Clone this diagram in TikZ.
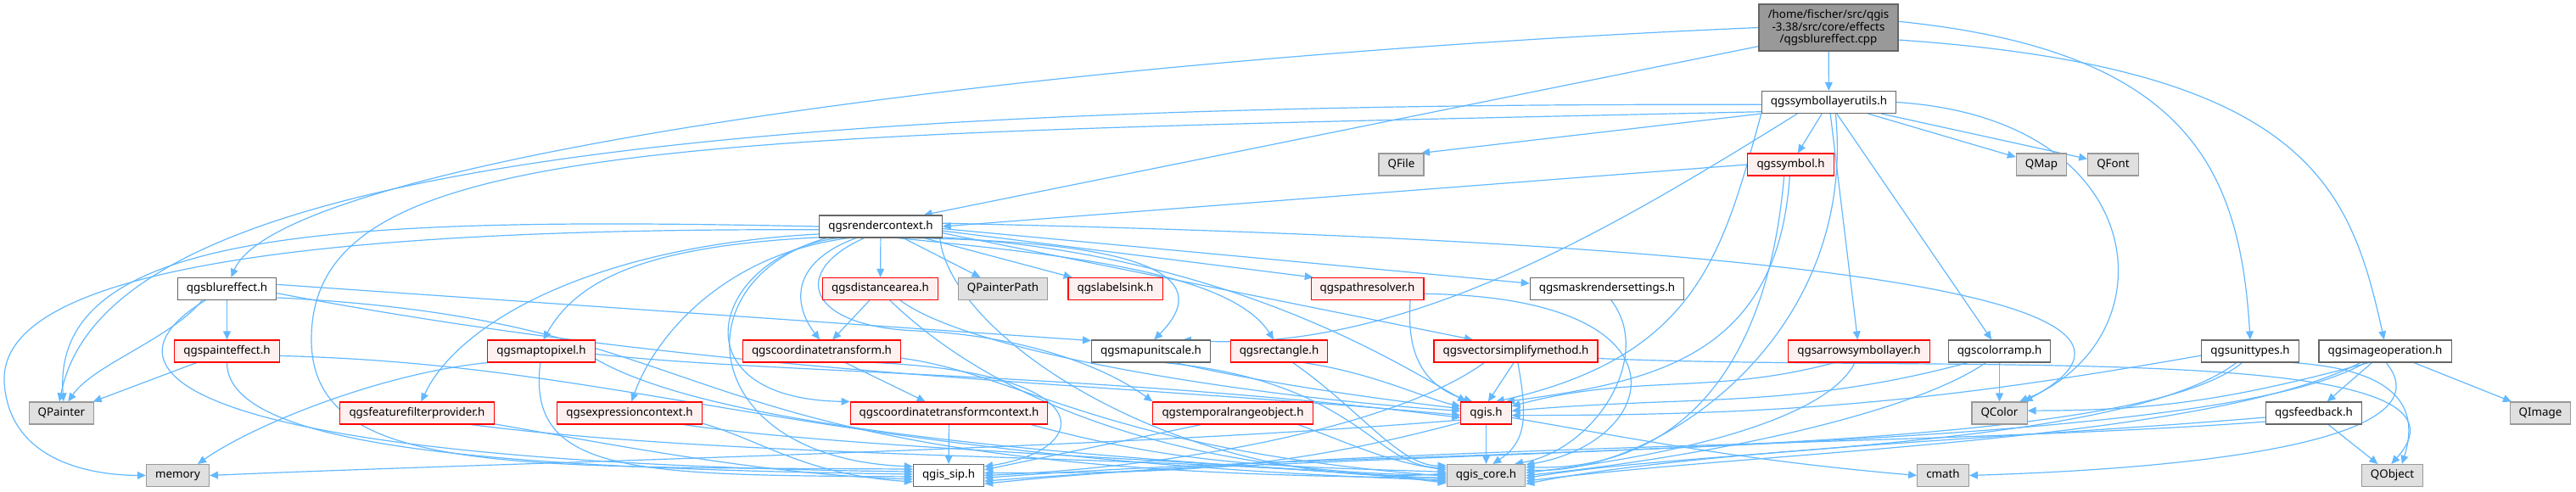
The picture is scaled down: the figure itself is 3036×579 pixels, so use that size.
\documentclass[tikz,border=0pt]{standalone}
\usepackage{fontspec}
\setmainfont{Noto Sans}
\usepackage{xcolor}
\usepackage{tikz}
\usetikzlibrary{arrows.meta}
\usetikzlibrary{backgrounds}
\definecolor{edgeblue}{HTML}{63B8FF}
\definecolor{boxgray}{HTML}{666666}
\definecolor{extgray}{HTML}{999999}
\definecolor{extfill}{HTML}{E0E0E0}
\definecolor{truncfill}{HTML}{FFF0F0}
\definecolor{truncred}{HTML}{FF0000}
\tikzset{
    filenode/.style = {rectangle, draw=boxgray, fill=white, line width=0.55pt, minimum height=13pt, inner xsep=5.3pt, inner ysep=0pt, text height=4.9pt, text depth=1.6pt},
    truncnode/.style = {filenode, draw=truncred, fill=truncfill},
    extnode/.style = {filenode, draw=extgray, fill=extfill},
    rootnode/.style = {rectangle, draw=boxgray, fill=extgray, line width=0.55pt, align=center, minimum width=82pt, minimum height=27.5pt, inner sep=1pt},
}

\begin{document}
\begin{tikzpicture}[
	x=0.5pt, y=-0.5pt,
	font=\fontsize{6.67pt}{7.25pt}\selectfont
]
\tikzset{
    dep/.style = {draw=edgeblue, line width=0.6pt, -{Triangle[length=5pt,width=4.4pt]}}
}
\useasboundingbox (0,0) rectangle (3036,579);
\node[rootnode] at (2155,32.5) (blurcpp) {/home/fischer/src/qgis\\-3.38/src/core/effects\\/qgsblureffect.cpp};
\node[filenode] at (2155.5,120.5) (symlayerutils) {qgssymbollayerutils.h};
%
\node[extnode] at (1651.5,194) (qfile) {QFile};
\node[truncnode] at (2110.5,194) (symbol) {qgssymbol.h};
\node[extnode] at (2406,194) (qmap) {QMap};
\node[extnode] at (2490.5,194) (qfont) {QFont};
\node[filenode] at (1038,267) (rendercontext) {qgsrendercontext.h};
%
\node[filenode] at (267.5,340.5) (blureffect) {qgsblureffect.h};
\node[truncnode] at (1037.5,340.5) (distancearea) {qgsdistancearea.h};
\node[extnode] at (1182,340.5) (qpainterpath) {QPainterPath};
\node[truncnode] at (1314.5,340.5) (labelsink) {qgslabelsink.h};
\node[truncnode] at (1611.5,340.5) (pathresolver) {qgspathresolver.h};
\node[filenode] at (1894,340.5) (maskrender) {qgsmaskrendersettings.h};
%
\node[truncnode] at (267.5,414) (painteffect) {qgspainteffect.h};
\node[truncnode] at (638,414) (maptopixel) {qgsmaptopixel.h};
\node[truncnode] at (968.5,414) (coordtrans) {qgscoordinatetransform.h};
\node[filenode] at (1356.5,414) (mapunitscale) {qgsmapunitscale.h};
\node[truncnode] at (1507.5,414) (rectangle) {qgsrectangle.h};
\node[truncnode] at (1786.5,414) (vectorsimplify) {qgsvectorsimplifymethod.h};
\node[truncnode] at (2191,414) (arrowsymbol) {qgsarrowsymbollayer.h};
\node[filenode] at (2356.5,414) (colorramp) {qgscolorramp.h};
\node[filenode] at (2652,414) (unittypes) {qgsunittypes.h};
\node[filenode] at (2811,414) (imageop) {qgsimageoperation.h};
%
\node[extnode] at (72.5,487) (qpainter) {QPainter};
\node[truncnode] at (491.5,487) (featurefilter) {qgsfeaturefilterprovider.h};
\node[truncnode] at (742,487) (exprcontext) {qgsexpressioncontext.h};
\node[truncnode] at (1118.5,487) (coordtranscontext) {qgscoordinatetransformcontext.h};
\node[truncnode] at (1453,487) (temporalrange) {qgstemporalrangeobject.h};
\node[truncnode] at (1751.5,487) (qgish) {qgis.h};
\node[extnode] at (2356.5,487) (qcolor) {QColor};
\node[filenode] at (2727,487) (feedback) {qgsfeedback.h};
\node[extnode] at (2994,487) (qimage) {QImage};
%
\node[extnode] at (209.5,560.5) (memory) {memory};
\node[filenode] at (1118,560.5) (qgissip) {qgis\_sip.h};
\node[extnode] at (1751.5,560.5) (qgiscore) {qgis\_core.h};
\node[extnode] at (2290,560.5) (cmath) {cmath};
\node[extnode] at (2819.5,560.5) (qobject) {QObject};
%
\begin{scope}[on background layer]
\draw[dep] (blurcpp) -- (symlayerutils);
\draw[dep] (blurcpp.195) -- (rendercontext.15);
\draw[dep] (blurcpp.west) .. controls (1200,70) and (330,190) .. (blureffect.70);
\draw[dep] (blurcpp.5) .. controls (2580,60) and (2640,200) .. (unittypes.north);
\draw[dep] (blurcpp.-10) .. controls (2720,80) and (2770,220) .. (imageop.95);
%
\draw[dep] (symlayerutils.south west) -- (qfile.30);
\draw[dep] (symlayerutils) -- (symbol);
\draw[dep] (symlayerutils) -- (qmap);
\draw[dep] (symlayerutils) -- (qfont);
\draw[dep] (symlayerutils) -- (arrowsymbol);
\draw[dep] (symlayerutils) -- (colorramp);
\draw[dep] (symlayerutils.east) .. controls (2540,140) and (2560,400) .. (qcolor.30);
\draw[dep] (symlayerutils.200) .. controls (1900,270) and (1650,420) .. (mapunitscale.20);
\draw[dep] (symlayerutils.182) .. controls (700,120) and (120,220) .. (qpainter.100);
\draw[dep] (symlayerutils.188) .. controls (800,160) and (367,160) .. (367,400) .. controls (367,560) and (600,550) .. (qgissip.170);
\draw[dep] (symlayerutils.south west) .. controls (2030,300) and (2000,420) .. (qgish.50);
\draw[dep] (symlayerutils.-60) .. controls (2190,400) and (1950,560) .. (qgiscore.8);
%
\draw[dep] (symbol.west) -- (rendercontext.east);
\draw[dep] (symbol.-95) .. controls (2095,420) and (1950,450) .. (qgish.30);
\draw[dep] (symbol.-120) .. controls (2080,470) and (1950,555) .. (qgiscore.12);
%
\draw[dep] (rendercontext) -- (distancearea);
\draw[dep] (rendercontext) -- (qpainterpath);
\draw[dep] (rendercontext) -- (labelsink);
\draw[dep] (rendercontext.-4) -- (pathresolver.168);
\draw[dep] (rendercontext.-2) -- (maskrender.176);
\draw[dep] (rendercontext.-6) -- (vectorsimplify.165);
\draw[dep] (rendercontext.-20) .. controls (1330,285) and (1440,320) .. (mapunitscale.75);
\draw[dep] (rendercontext.-35) .. controls (1250,300) and (1450,320) .. (rectangle.115);
\draw[dep] (rendercontext.205) .. controls (930,310) and (935,360) .. (coordtrans.100);
\draw[dep] (rendercontext.195) .. controls (840,300) and (790,470) .. (coordtranscontext.north west);
\draw[dep] (rendercontext.215) .. controls (930,320) and (950,385) .. (1080,390) .. controls (1200,395) and (1300,430) .. (temporalrange.north west);
\draw[dep] (rendercontext.190) .. controls (760,290) and (680,330) .. (maptopixel.80);
\draw[dep] (rendercontext.187) .. controls (700,290) and (540,380) .. (featurefilter.70);
\draw[dep] (rendercontext.200) .. controls (850,300) and (770,400) .. (exprcontext.80);
\draw[dep] (rendercontext.west) .. controls (400,255) and (60,270) .. (qpainter.80);
\draw[dep] (rendercontext.183) .. controls (250,268) and (0,340) .. (5,450) .. controls (10,540) and (100,560) .. (memory.west);
\draw[dep] (rendercontext.3) .. controls (1900,280) and (2650,330) .. (qcolor.25);
\draw[dep] (rendercontext.-10) .. controls (1450,300) and (1650,430) .. (qgish.150);
\draw[dep] (rendercontext.192) .. controls (800,330) and (820,540) .. (qgissip.166);
\draw[dep] (rendercontext.-11) .. controls (1120,400) and (1400,580) .. (qgiscore.177);
%
\draw[dep] (blureffect) -- (painteffect);
\draw[dep] (blureffect.205) .. controls (200,400) and (110,430) .. (qpainter.60);
\draw[dep] (blureffect.5) -- (mapunitscale.170);
\draw[dep] (blureffect.-5) .. controls (850,445) and (1300,450) .. (qgish.185);
\draw[dep] (blureffect.208) .. controls (100,440) and (220,545) .. (qgissip.174);
\draw[dep] (blureffect.-10) .. controls (900,380) and (750,560) .. (qgiscore.183);
%
\draw[dep] (painteffect) -- (qpainter.20);
\draw[dep] (painteffect.south) .. controls (267,530) and (600,552) .. (qgissip.178);
\draw[dep] (painteffect.-5) .. controls (750,430) and (950,540) .. (qgiscore.187);
%
\draw[dep] (maptopixel.south west) .. controls (450,440) and (300,500) .. (memory.30);
\draw[dep] (maptopixel.265) .. controls (620,560) and (750,560) .. (qgissip.182);
\draw[dep] (maptopixel.-8) .. controls (850,510) and (1300,540) .. (qgiscore.185);
\draw[dep] (maptopixel.-3) .. controls (900,440) and (1300,440) .. (qgish.190);
%
\draw[dep] (featurefilter.-8) .. controls (700,520) and (900,560) .. (qgissip.186);
\draw[dep] (featurefilter.-12) .. controls (900,545) and (1450,535) .. (qgiscore.191);
\draw[dep] (exprcontext.-8) .. controls (900,520) and (950,560) .. (qgissip.190);
\draw[dep] (exprcontext.-12) .. controls (1000,530) and (1500,545) .. (qgiscore.189);
%
\draw[dep] (coordtrans) -- (coordtranscontext);
\draw[dep] (coordtrans.-12) .. controls (1300,440) and (1290,530) .. (qgissip.14);
\draw[dep] (coordtrans.-5) .. controls (1200,440) and (1300,530) .. (qgiscore.181);
\draw[dep] (coordtranscontext) -- (qgissip);
\draw[dep] (coordtranscontext.-8) to[out=-15,in=178] (qgiscore.175);
\draw[dep] (temporalrange.200) -- (qgissip.9);
\draw[dep] (temporalrange.-10) to[out=-20,in=172] (qgiscore.172);
%
\draw[dep] (distancearea) -- (coordtrans);
\draw[dep] (distancearea.-30) .. controls (1150,420) and (1500,470) .. (qgish.175);
\draw[dep] (distancearea.-50) .. controls (1200,500) and (1450,560) .. (qgiscore.179);
\draw[dep] (mapunitscale.-25) .. controls (1480,450) and (1620,470) .. (qgish.170);
\draw[dep] (mapunitscale.-40) .. controls (1600,450) and (1620,550) .. (qgiscore.169);
\draw[dep] (rectangle.-25) .. controls (1620,440) and (1680,470) .. (qgish.165);
\draw[dep] (rectangle.-40) .. controls (1600,480) and (1650,550) .. (qgiscore.166);
\draw[dep] (pathresolver.-5) .. controls (2000,350) and (1960,520) .. (qgiscore.15);
\draw[dep] (pathresolver.-15) .. controls (1660,390) and (1660,450) .. (qgish.140);
\draw[dep] (maskrender.-70) .. controls (1950,420) and (1880,530) .. (qgiscore.22);
%
\draw[dep] (vectorsimplify.260) -- (qgish.80);
\draw[dep] (vectorsimplify.-80) .. controls (1800,490) and (1800,520) .. (qgiscore.60);
\draw[dep] (vectorsimplify.200) .. controls (1650,500) and (1400,550) .. (qgissip.0);
\draw[dep] (vectorsimplify.-5) .. controls (2300,440) and (2950,400) .. (qobject.95);
%
\draw[dep] (qgish) -- (qgiscore);
\draw[dep] (qgish.200) to[out=195,in=0] (qgissip.4);
\draw[dep] (qgish.195) .. controls (1300,530) and (600,545) .. (memory.east);
\draw[dep] (qgish.-10) to[out=-10,in=175] (cmath.west);
%
\draw[dep] (arrowsymbol.205) to[out=195,in=15] (qgish.15);
\draw[dep] (arrowsymbol.250) .. controls (2150,500) and (1950,540) .. (qgiscore.4);
\draw[dep] (colorramp) -- (qcolor);
\draw[dep] (colorramp.200) to[out=195,in=5] (qgish.5);
\draw[dep] (colorramp.220) .. controls (2250,490) and (2000,540) .. (qgiscore.0);
%
\draw[dep] (unittypes.185) to[out=190,in=0] (qgish.-5);
\draw[dep] (unittypes.220) .. controls (2500,530) and (2000,528) .. (qgiscore.-4);
\draw[dep] (unittypes.235) .. controls (2500,545) and (1650,525) .. (qgissip.-4);
\draw[dep] (unittypes.-15) .. controls (2810,435) and (2855,470) .. (qobject.50);
%
\draw[dep] (imageop) -- (qimage);
\draw[dep] (imageop) -- (feedback);
\draw[dep] (imageop.-85) .. controls (2880,510) and (2650,550) .. (cmath.east);
\draw[dep] (imageop.215) to[out=195,in=0] (qcolor.5);
\draw[dep] (imageop.205) .. controls (2600,520) and (2100,530) .. (qgiscore.-8);
\draw[dep] (imageop.210) .. controls (2600,535) and (1700,525) .. (qgissip.-9);
%
\draw[dep] (feedback) -- (qobject);
\draw[dep] (feedback.185) .. controls (2400,515) and (2000,530) .. (qgiscore.-12);
\draw[dep] (feedback.190) .. controls (2300,525) and (1600,525) .. (qgissip.-13);
\end{scope}
\end{tikzpicture}
\end{document}
